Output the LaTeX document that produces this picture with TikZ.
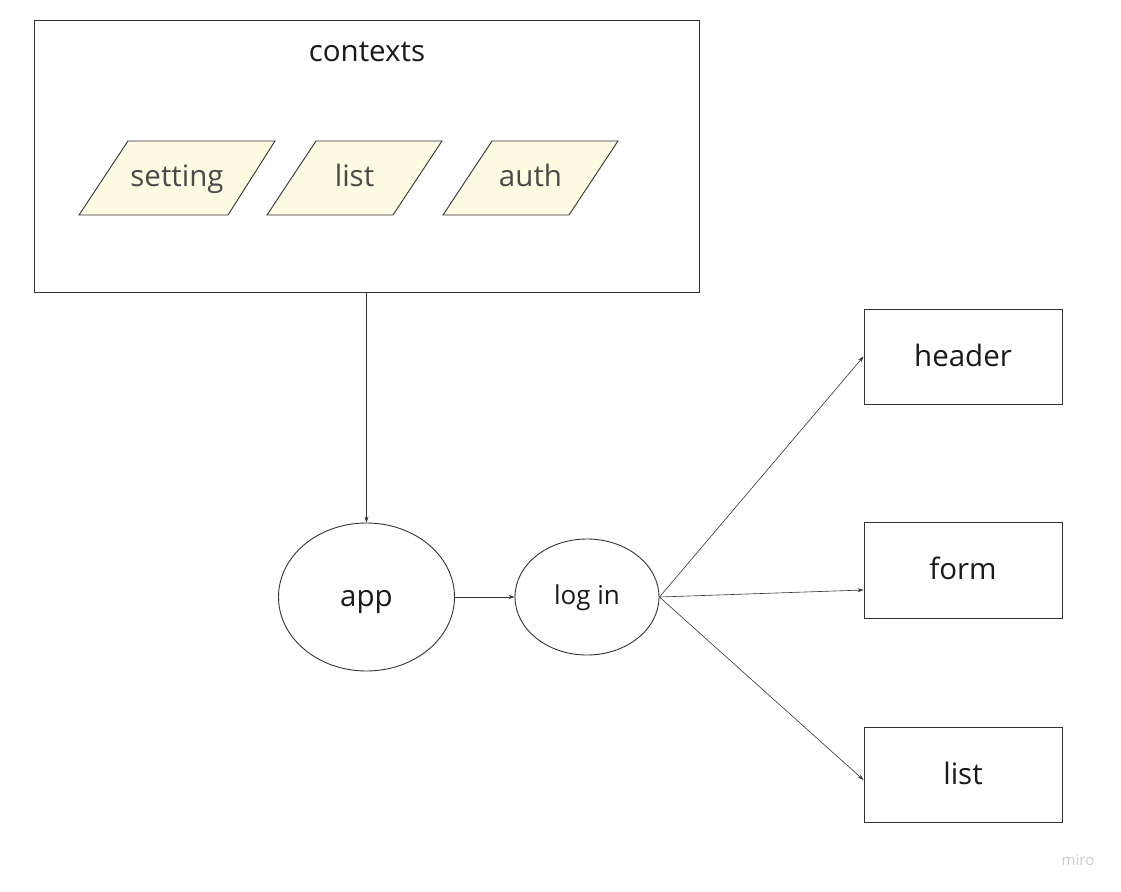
\documentclass[tikz,border=0pt]{standalone}
\usepackage{fontspec}
\setmainfont{Open Sans}
\usetikzlibrary{arrows.meta,shapes.geometric,calc}
\definecolor{linec}{HTML}{333333}
\definecolor{parafill}{HTML}{FDFBE1}
\definecolor{paratext}{HTML}{4A4A4A}
\definecolor{txt}{HTML}{1A1A1A}
\begin{document}
\begin{tikzpicture}[x=1pt,y=-1pt,
  box/.style={draw=linec,line width=0.9pt,rectangle,inner sep=0pt},
  oval/.style={draw=linec,line width=0.9pt,ellipse,inner sep=0pt},
  para/.style={draw=linec,line width=0.9pt,fill=parafill},
  lbl/.style={anchor=base,inner sep=0pt,text=txt,font=\fontsize{29.5}{34}\selectfont},
  plbl/.style={anchor=base,inner sep=0pt,text=paratext,font=\fontsize{29.5}{34}\selectfont},
  conn/.style={draw=linec,line width=0.6pt,-{Stealth[length=6pt,width=4pt]}}]
\useasboundingbox (0,0) rectangle (1121,891);
% contexts container
\node[box,minimum width=665pt,minimum height=272pt] (contexts) at (366.5,156) {};
\node[lbl] (contextslbl) at (367,62) {contexts};
% parallelograms
\draw[para] (79,215) -- (128,141) -- (275,141) -- (228,215) -- cycle;
\node[plbl] (setting) at (177,186) {setting};
\draw[para] (267,215) -- (316,141) -- (442,141) -- (393,215) -- cycle;
\node[plbl] (ctxlist) at (354.5,186) {list};
\draw[para] (443,215) -- (492,141) -- (618,141) -- (569,215) -- cycle;
\node[plbl] (auth) at (530.5,186) {auth};
% ellipses
\node[oval,minimum width=176pt,minimum height=148pt] (app) at (366.5,597) {};
\node[lbl] (applbl) at (366.5,606) {app};
\node[oval,minimum width=144pt,minimum height=116pt] (login) at (587,597) {};
\node[lbl,font=\fontsize{26}{30}\selectfont] (loginlbl) at (587,604) {log in};
% right boxes
\node[box,minimum width=198pt,minimum height=95pt] (header) at (963,356.5) {};
\node[lbl] (headerlbl) at (963,366) {header};
\node[box,minimum width=198pt,minimum height=96pt] (form) at (963,570) {};
\node[lbl] (formlbl) at (963,579) {form};
\node[box,minimum width=198pt,minimum height=95pt] (list) at (963,774.5) {};
\node[lbl] (listlbl) at (963,784) {list};
% connectors
\draw[conn] (contexts.south) -- (app.north);
\draw[conn] (app.east) -- (login.west);
\draw[conn] (login.east) -- (header.west);
\draw[conn] (login.east) -- ([yshift=-20pt]form.west);
\draw[conn] (login.east) -- ([yshift=-5.5pt]list.west);
% watermark
\node[anchor=base,inner sep=0pt,text=black!20,font=\fontsize{15}{17}\selectfont] (miro) at (1078,865) {miro};
\end{tikzpicture}
\end{document}
